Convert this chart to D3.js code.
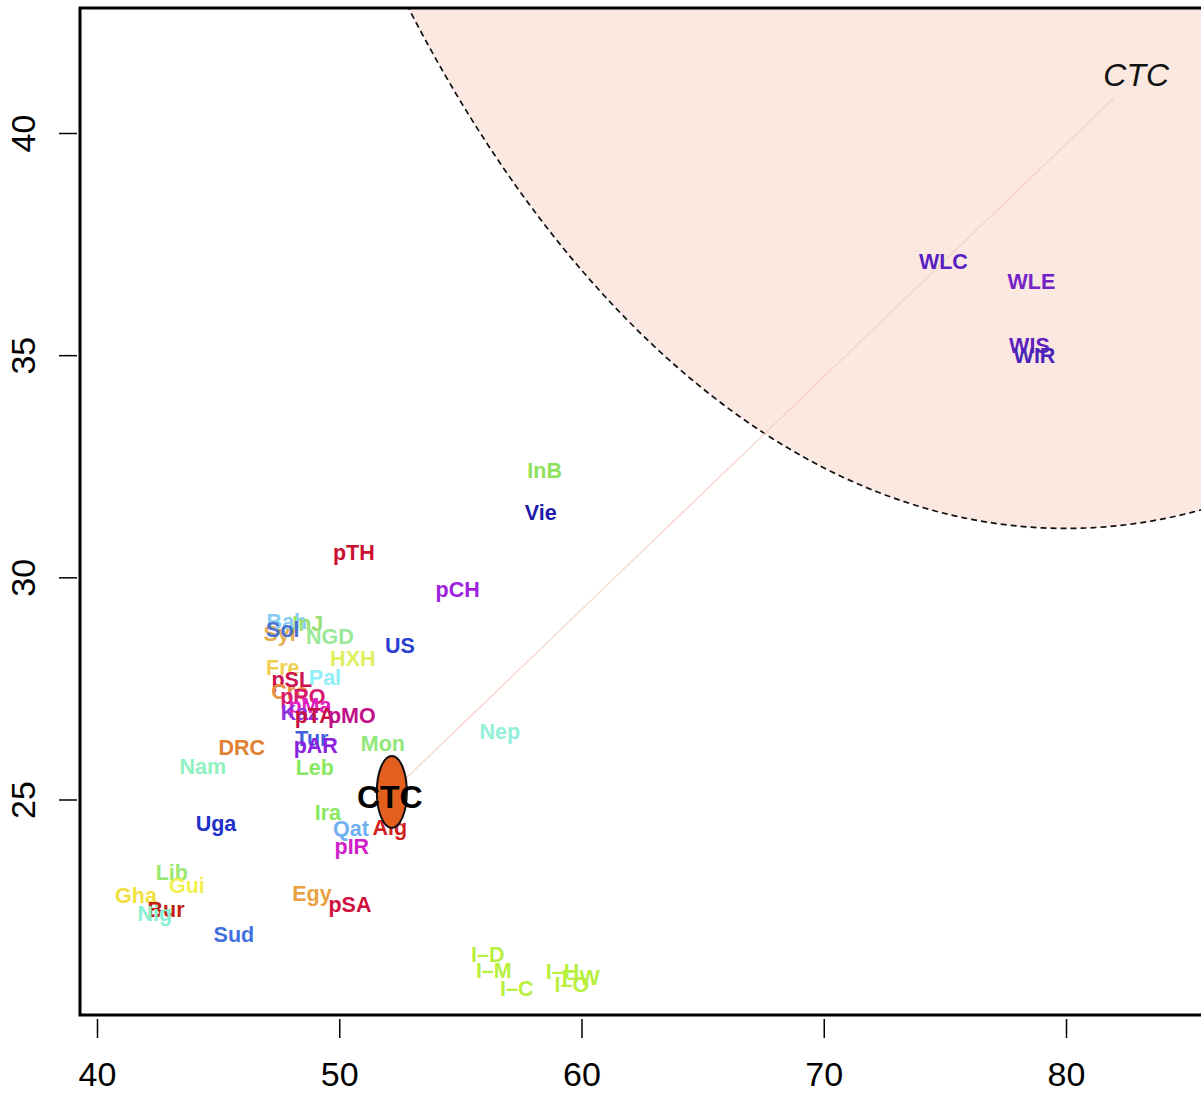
<!DOCTYPE html>
<html>
<head>
<meta charset="utf-8">
<script src="https://cdn.jsdelivr.net/npm/d3@7"></script>
<style>
  html, body { margin: 0; padding: 0; background: #fff; }
  svg { display: block; font-family: "Liberation Sans", Arial, Helvetica, sans-serif; }
</style>
</head>
<body>
<svg id="chart" width="1201" height="1093"></svg>
<script>
// Sample labels and their coordinates
const labels = ["WLC","WLE","WIS","WIR","InB","Vie","pTH","pCH","US",
  "Bah","InJ","Syr","Sol","NGD","HXH","Fre","Pal","pSL","Cro","pRO","pMa","Kaz","pTA","pMO",
  "Tur","pAR","DRC","Nam","Mon","Leb","Nep","Uga","Ira","Qat","Alg","pIR",
  "Lib","Gui","Gha","Bur","Nig","Egy","pSA","Sud",
  "I–D","I–M","I–C","I–H","I–O","I–W"];
const xValues = [74.94,78.57,78.49,78.70,58.48,58.32,50.60,54.89,52.50,
  47.84,48.70,47.59,47.67,49.61,50.56,47.67,49.41,48.04,47.96,48.50,48.79,48.37,48.99,50.52,
  48.87,49.03,45.98,44.37,51.80,48.99,56.63,44.91,49.53,50.48,52.09,50.52,
  43.09,43.71,41.61,42.85,42.39,48.87,50.44,45.65,
  56.13,56.38,57.33,59.22,59.60,59.97];
const yValues = [37.10,36.65,35.21,34.98,32.39,31.45,30.55,29.71,28.45,
  28.99,28.95,28.72,28.81,28.66,28.16,27.96,27.74,27.69,27.42,27.31,27.10,26.95,26.88,26.88,
  26.36,26.20,26.16,25.73,26.25,25.71,26.52,24.45,24.70,24.33,24.36,23.93,
  23.34,23.05,22.83,22.51,22.42,22.87,22.62,21.95,
  21.50,21.14,20.73,21.12,20.82,20.98];
const labelColors = ["#5a1fc2","#7322c8","#6020c0","#4a24b8","#8fe05a","#1c1ca8","#cc1030","#a020e0","#2a40d0",
  "#88ccf5","#98e070","#e2b050","#4a70d0","#98e898","#e0f060","#f0d050","#90eef8","#cc1050","#e89040","#d81870","#e020c0","#9030e0","#c81040","#c0108a",
  "#4060e0","#8a20e0","#e08030","#90f0c0","#90e878","#88e860","#90f0d8","#2030c8","#88e860","#70b0f0","#d02020","#d020c8",
  "#98e870","#f0f050","#f0e040","#c02010","#88f0d0","#e8a040","#d01040","#4070e0",
  "#b8f040","#b8f040","#b8f040","#b8f040","#b8f040","#b8f040"];

// Centroid marker and target direction
const centroid = { label: "CTC", x: 52.17, y: 25.17 };
const target = { label: "CTC", x: 82.0, y: 40.8, labelX: 82.9, labelY: 41.3 };
// Shaded region (circle in data units)
const region = { cx: 80, cy: 68.4, r: 37.3 };

const xTicks = [40, 50, 60, 70, 80];
const yTicks = [25, 30, 35, 40];

const svg = d3.select("#chart");
const x = d3.scaleLinear().domain([40, 80]).range([97, 1066]);
const y = d3.scaleLinear().domain([25, 40]).range([799.5, 133]);

const frame = { left: 80, top: 8, bottom: 1015, right: 1215 };

// clip to the plot frame
svg.append("defs").append("clipPath").attr("id", "plotClip")
  .append("rect")
  .attr("x", frame.left).attr("y", frame.top)
  .attr("width", frame.right - frame.left).attr("height", frame.bottom - frame.top);

const plot = svg.append("g").attr("clip-path", "url(#plotClip)");

// shaded disc with dashed outline
const angles = d3.range(0, 361, 0.5).map(a => a * Math.PI / 180);
const circlePts = angles.map(a => [region.cx + region.r * Math.cos(a), region.cy + region.r * Math.sin(a)]);
const circleLine = d3.line().x(d => x(d[0])).y(d => y(d[1]));
plot.append("path")
  .attr("d", circleLine(circlePts) + "Z")
  .attr("fill", "#fbe8e0")
  .attr("stroke", "#111")
  .attr("stroke-width", 1.7)
  .attr("stroke-dasharray", "6,4");

// direction line from centroid toward target
plot.append("line")
  .attr("x1", x(centroid.x)).attr("y1", y(centroid.y))
  .attr("x2", x(target.x)).attr("y2", y(target.y))
  .attr("stroke", "#f6d2c4")
  .attr("stroke-width", 1.2);

// sample labels
plot.selectAll("text.lab")
  .data(labels)
  .enter().append("text")
  .attr("class", "lab")
  .attr("x", (d, i) => x(xValues[i]))
  .attr("y", (d, i) => y(yValues[i]))
  .attr("text-anchor", "middle")
  .attr("dominant-baseline", "central")
  .attr("font-weight", "bold")
  .attr("font-size", 21.5)
  .attr("fill", (d, i) => labelColors[i])
  .text(d => d);

// centroid ellipse
plot.append("ellipse")
  .attr("cx", x(centroid.x)).attr("cy", y(centroid.y))
  .attr("rx", 15).attr("ry", 36)
  .attr("fill", "#e25f1e")
  .attr("stroke", "#111")
  .attr("stroke-width", 2);

plot.append("text")
  .attr("x", x(centroid.x) - 2).attr("y", y(centroid.y) + 5)
  .attr("text-anchor", "middle")
  .attr("dominant-baseline", "central")
  .attr("font-weight", "bold")
  .attr("font-size", 32)
  .attr("fill", "#000")
  .text(centroid.label);

// target label
plot.append("text")
  .attr("x", x(target.labelX)).attr("y", y(target.labelY))
  .attr("text-anchor", "middle")
  .attr("dominant-baseline", "central")
  .attr("font-style", "italic")
  .attr("font-size", 32)
  .attr("fill", "#111")
  .text(target.label);

// plot frame
svg.append("rect")
  .attr("x", frame.left).attr("y", frame.top)
  .attr("width", frame.right - frame.left).attr("height", frame.bottom - frame.top)
  .attr("fill", "none")
  .attr("stroke", "#000")
  .attr("stroke-width", 3);

// x axis
const xAxis = svg.append("g")
  .attr("transform", `translate(0,${frame.bottom + 4})`)
  .call(d3.axisBottom(x).tickValues(xTicks).tickSize(19).tickPadding(24).tickFormat(d3.format("d")));
xAxis.select(".domain").remove();
xAxis.selectAll("line").attr("stroke", "#000").attr("stroke-width", 1.5);
xAxis.selectAll("text").attr("font-size", 34).attr("fill", "#000")
  .attr("font-family", "'Liberation Sans', Arial, sans-serif");

// y axis
const yAxis = svg.append("g")
  .attr("transform", `translate(${frame.left - 3},0)`)
  .call(d3.axisLeft(y).tickValues(yTicks).tickSize(18).tickFormat(d3.format("d")));
yAxis.select(".domain").remove();
yAxis.selectAll("line").attr("stroke", "#000").attr("stroke-width", 1.5);
yAxis.selectAll("text")
  .attr("font-size", 34).attr("fill", "#000")
  .attr("font-family", "'Liberation Sans', Arial, sans-serif")
  .attr("text-anchor", "middle")
  .attr("dy", null)
  .attr("x", null)
  .attr("dominant-baseline", "central")
  .attr("transform", d => `translate(-54,0) rotate(-90)`);
</script>
</body>
</html>
